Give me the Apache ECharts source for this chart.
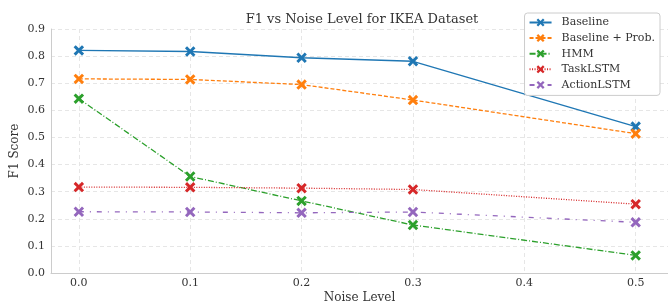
<!DOCTYPE html>
<html>
<head>
<meta charset="utf-8">
<script src="https://cdn.jsdelivr.net/npm/echarts@6/dist/echarts.min.js"></script>
<style>
  html, body { margin: 0; padding: 0; background: #fff; }
  #chart { width: 668px; height: 301px; }
</style>
</head>
<body>
<div id="chart"></div>
<script>
const noiseLevels = [0.0, 0.1, 0.2, 0.3, 0.5]
const baseline = [0.821, 0.817, 0.794, 0.781, 0.540]
const baselineProb = [0.716, 0.714, 0.695, 0.638, 0.514]
const hmm = [0.643, 0.356, 0.266, 0.177, 0.065]
const taskLstm = [0.317, 0.316, 0.313, 0.308, 0.254]
const actionLstm = [0.226, 0.225, 0.222, 0.225, 0.187]
const yTicks = [0, 0.1, 0.2, 0.3, 0.4, 0.5, 0.6, 0.7, 0.8, 0.9]

const font = 'DejaVu Serif'
// filled "x" marker
const xMark = 'path://M2,0 L5,3 L8,0 L10,2 L7,5 L10,8 L8,10 L5,7 L2,10 L0,8 L3,5 L0,2 Z'

function pairs(vals) {
  return noiseLevels.map((x, i) => [x, vals[i]])
}

function makeSeries(name, vals, color, lineType) {
  return {
    name,
    type: 'line',
    data: pairs(vals),
    symbol: xMark,
    symbolSize: 10.5,
    showAllSymbol: true,
    itemStyle: { color },
    lineStyle: { color, width: 1.3, type: lineType },
    emphasis: { disabled: true },
  }
}

const chart = echarts.init(document.getElementById('chart'))

chart.setOption({
  animation: false,
  textStyle: { fontFamily: font },
  title: {
    text: 'F1 vs Noise Level for IKEA Dataset',
    left: 357,
    top: 8,
    textAlign: 'center',
    textStyle: { fontFamily: font, fontSize: 13, fontWeight: 'normal', color: '#333' },
  },
  grid: { left: 51, right: 0, top: 29, bottom: 28, outerBoundsMode: 'none', containLabel: false },
  legend: {
    orient: 'vertical',
    right: 8,
    top: 13,
    itemWidth: 22,
    itemHeight: 10,
    itemGap: 4.6,
    padding: [4, 5, 5, 4],
    backgroundColor: '#fff',
    borderColor: '#ccc',
    borderWidth: 1,
    borderRadius: 3,
    textStyle: { fontFamily: font, fontSize: 11, color: '#333', padding: [0, 0, 0, 5] },
    data: ['Baseline', 'Baseline + Prob.', 'HMM', 'TaskLSTM', 'ActionLSTM'],
  },
  xAxis: {
    type: 'value',
    min: -0.025,
    max: 0.529,
    name: 'Noise Level',
    nameLocation: 'middle',
    nameGap: 19,
    nameMoveOverlap: false,
    nameTextStyle: { fontFamily: font, fontSize: 12, color: '#333' },
    axisLine: { show: true, onZero: false, lineStyle: { color: '#ccc', width: 1 } },
    axisTick: { show: false },
    axisLabel: {
      showMinLabel: false,
      showMaxLabel: false,
      color: '#333',
      fontSize: 11,
      fontFamily: font,
      margin: 5,
      formatter: v => v.toFixed(1),
    },
    splitLine: { show: true, lineStyle: { color: '#e6e6e6', type: [4, 3] } },
  },
  yAxis: {
    type: 'value',
    min: yTicks[0],
    max: yTicks[yTicks.length - 1],
    interval: 0.1,
    name: 'F1 Score',
    nameLocation: 'middle',
    nameGap: 30,
    nameMoveOverlap: false,
    nameTextStyle: { fontFamily: font, fontSize: 12, color: '#333' },
    axisLine: { show: true, onZero: false, lineStyle: { color: '#ccc', width: 1 } },
    axisTick: { show: false },
    axisLabel: {
      color: '#333',
      fontSize: 11,
      fontFamily: font,
      margin: 6,
      formatter: v => v.toFixed(1),
    },
    splitLine: { show: true, lineStyle: { color: '#e6e6e6', type: [4, 3] } },
  },
  series: [
    makeSeries('Baseline', baseline, '#1f77b4', 'solid'),
    makeSeries('Baseline + Prob.', baselineProb, '#ff7f0e', [4, 2]),
    makeSeries('HMM', hmm, '#2ca02c', [6, 2, 1, 2]),
    makeSeries('TaskLSTM', taskLstm, '#d62728', [1, 1.5]),
    makeSeries('ActionLSTM', actionLstm, '#9467bd', [5, 6, 1, 6]),
  ],
})
</script>
</body>
</html>
